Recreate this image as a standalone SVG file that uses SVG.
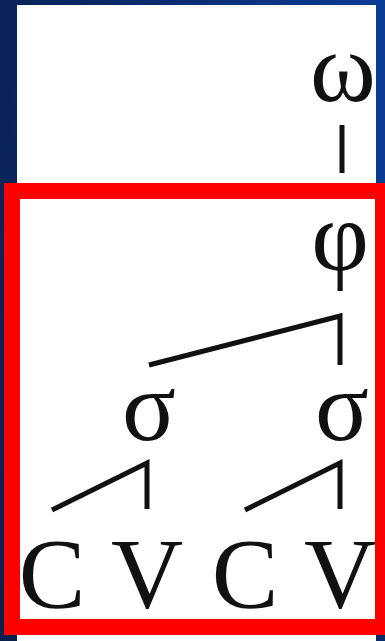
<svg xmlns="http://www.w3.org/2000/svg" width="385" height="641" viewBox="0 0 385 641">
  <defs>
    <linearGradient id="bg" x1="0" y1="0" x2="1" y2="0.3">
      <stop offset="0" stop-color="#0a2152"/>
      <stop offset="0.5" stop-color="#0b2f7a"/>
      <stop offset="1" stop-color="#0a44a6"/>
    </linearGradient>
    <linearGradient id="bgv" x1="0" y1="0" x2="0" y2="1">
      <stop offset="0" stop-color="#0a2a6e" stop-opacity="0.2"/>
      <stop offset="1" stop-color="#071a3c" stop-opacity="0.6"/>
    </linearGradient>
  </defs>
  <style>
    .sym { font-family: "Liberation Serif", "Times New Roman", serif; font-size: 100px; fill: #111; text-anchor: middle; }
    .edge { stroke: #111; stroke-width: 5; fill: none; stroke-linejoin: miter; }
  </style>
  <rect x="0" y="0" width="385" height="641" fill="url(#bg)"/>
  <rect x="0" y="0" width="385" height="641" fill="url(#bgv)"/>
  <rect x="17" y="5" width="359" height="636" fill="#ffffff"/>
  <rect x="12" y="191" width="371" height="436" fill="none" stroke="#ff0000" stroke-width="16"/>

  <g id="connectors">
    <line class="edge" x1="342" y1="125" x2="342" y2="173"/>
    <polyline class="edge" points="149,365 340,316 340,365"/>
    <polyline class="edge" points="52,510 147,463 147,509"/>
    <polyline class="edge" points="245,510 340,463 340,509"/>
  </g>

  <g id="omega"><text class="sym" x="343" y="101">ω</text></g>
  <g id="phi"><text class="sym" x="340" y="270">φ</text></g>
  <g id="sigma1"><text class="sym" x="149" y="440">σ</text></g>
  <g id="sigma2"><text class="sym" x="342" y="440">σ</text></g>
  <g id="C1"><text class="sym" x="52" y="607">C</text></g>
  <g id="V1"><text class="sym" x="147" y="607">V</text></g>
  <g id="C2"><text class="sym" x="245" y="607">C</text></g>
  <g id="V2"><text class="sym" x="340" y="607">V</text></g>
</svg>
